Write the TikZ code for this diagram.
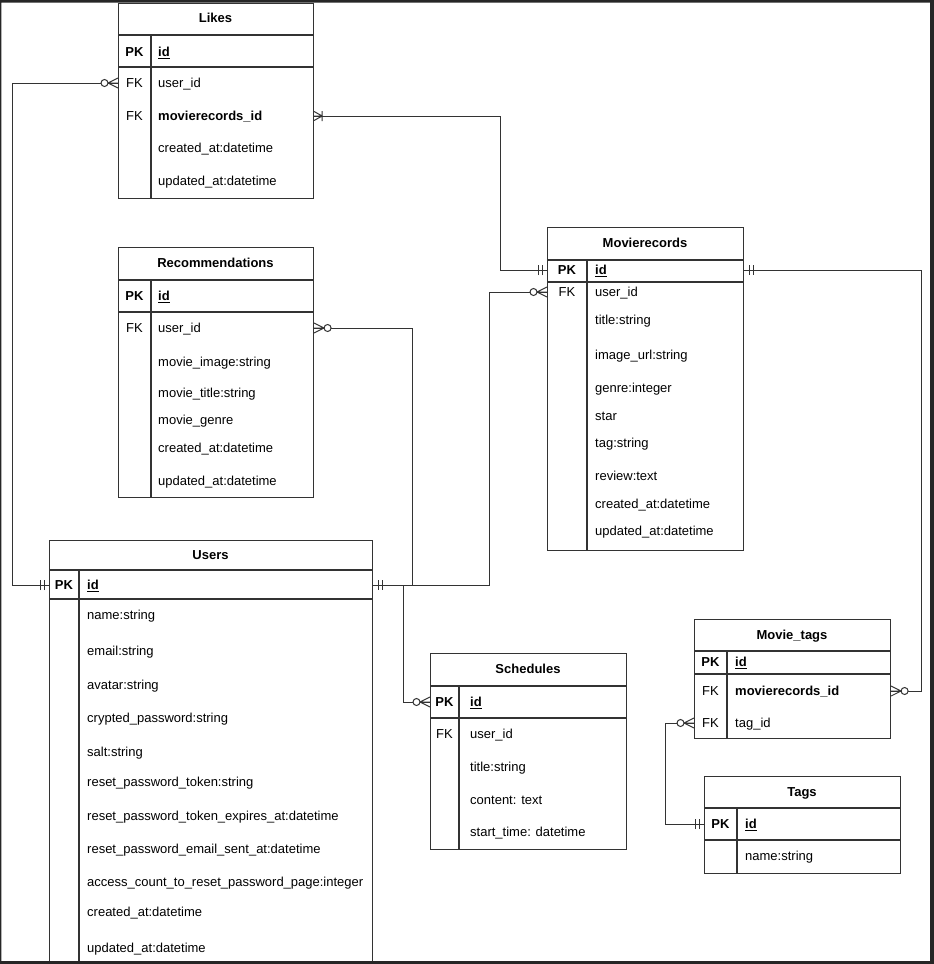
\documentclass[tikz,border=0pt]{standalone}
\usepackage{fontspec}
\setmainfont{Liberation Sans}
\usetikzlibrary{calc}
\definecolor{edge}{HTML}{333333}
\definecolor{frame}{HTML}{262626}
\tikzset{
  tbl/.style={draw=edge, line width=1.1pt, anchor=north west, inner sep=0pt},
  sep/.style={draw=edge, line width=1.1pt},
  conn/.style={draw=edge, line width=1pt},
  txt/.style={font=\fontsize{13}{15}\selectfont, inner sep=0pt, text height=9.4pt, text depth=0pt},
  ttl/.style={txt, font=\fontsize{13}{15}\selectfont\bfseries},
  key/.style={txt},
  pkey/.style={ttl},
  fld/.style={txt, anchor=west},
  pics/mandone/.style={code={\draw[conn] (5,-5) -- (5,5) (9,-5) -- (9,5);}},
  pics/onemany/.style={code={\draw[conn] (0,-4.5) -- (8,0) -- (0,4.5) (0,0) -- (8,0) (8,-5) -- (8,5);}},
  pics/zeromany/.style={code={\draw[conn] (0,-5) -- (10,0) -- (0,5) (0,0) -- (10,0);
    \draw[conn, fill=white] (13.5,0) circle (3.5);}},
}
\begin{document}
\begin{tikzpicture}[x=1pt, y=-1pt]
  \useasboundingbox (0,0) rectangle (934,964);
  \fill[white] (0,0) rectangle (934,964);

  % Likes
  \node[tbl, minimum width=195pt, minimum height=195pt] (likes) at (118,3) {};
  \draw[sep] (118,35) -- (313,35) (118,67) -- (313,67) (151,35) -- (151,198);
  \node[ttl] (likes-t) at (215.5,18) {Likes};
  \node[pkey] at (134.5,52) {PK};
  \node[fld, font=\fontsize{13}{15}\selectfont\bfseries] (likes-id) at (158,52) {\underline{id}};
  \node[key] at (134.5,83) {FK};
  \node[fld] (likes-uid) at (158,83) {user\_id};
  \node[key] at (134.5,116) {FK};
  \node[fld, font=\fontsize{13}{15}\selectfont\bfseries] (likes-mid) at (158,116) {movierecords\_id};
  \node[fld] (likes-ca) at (158,148) {created\_at:datetime};
  \node[fld] (likes-ua) at (158,181) {updated\_at:datetime};

  % Recommendations
  \node[tbl, minimum width=195pt, minimum height=250pt] (recs) at (118,247) {};
  \draw[sep] (118,280) -- (313,280) (118,312) -- (313,312) (151,280) -- (151,497);
  \node[ttl] (recs-t) at (215.5,263) {Recommendations};
  \node[pkey] at (134.5,296) {PK};
  \node[fld, font=\fontsize{13}{15}\selectfont\bfseries] (recs-id) at (158,296) {\underline{id}};
  \node[key] at (134.5,328) {FK};
  \node[fld] (recs-uid) at (158,328) {user\_id};
  \node[fld] (recs-img) at (158,362) {movie\_image:string};
  \node[fld] (recs-ttl) at (158,393) {movie\_title:string};
  \node[fld] (recs-gen) at (158,420) {movie\_genre};
  \node[fld] (recs-ca) at (158,448) {created\_at:datetime};
  \node[fld] (recs-ua) at (158,481) {updated\_at:datetime};

  % Movierecords
  \node[tbl, minimum width=196pt, minimum height=323pt] (movie) at (547,227) {};
  \draw[sep] (547,260) -- (743,260) (547,282) -- (743,282) (587,260) -- (587,550);
  \node[ttl] (movie-t) at (645,243) {Movierecords};
  \node[pkey] at (567,270) {PK};
  \node[fld, font=\fontsize{13}{15}\selectfont\bfseries] (movie-id) at (595,270) {\underline{id}};
  \node[key] at (567,292) {FK};
  \node[fld] (movie-uid) at (595,292) {user\_id};
  \node[fld] (movie-ttl) at (595,320) {title:string};
  \node[fld] (movie-img) at (595,355) {image\_url:string};
  \node[fld] (movie-gen) at (595,388) {genre:integer};
  \node[fld] (movie-star) at (595,416) {star};
  \node[fld] (movie-tag) at (595,443) {tag:string};
  \node[fld] (movie-rev) at (595,476) {review:text};
  \node[fld] (movie-ca) at (595,504) {created\_at:datetime};
  \node[fld] (movie-ua) at (595,531) {updated\_at:datetime};

  % Users
  \node[tbl, minimum width=323pt, minimum height=422pt] (users) at (49,540) {};
  \draw[sep] (49,570) -- (372,570) (49,599) -- (372,599) (79,570) -- (79,962);
  \node[ttl] (users-t) at (210.5,555) {Users};
  \node[pkey] at (64,585) {PK};
  \node[fld, font=\fontsize{13}{15}\selectfont\bfseries] (users-id) at (87,585) {\underline{id}};
  \node[fld] (users-name) at (87,615) {name:string};
  \node[fld] (users-mail) at (87,651) {email:string};
  \node[fld] (users-av) at (87,685) {avatar:string};
  \node[fld] (users-pw) at (87,718) {crypted\_password:string};
  \node[fld] (users-salt) at (87,752) {salt:string};
  \node[fld] (users-rt) at (87,782) {reset\_password\_token:string};
  \node[fld] (users-rte) at (87,816) {reset\_password\_token\_expires\_at:datetime};
  \node[fld] (users-res) at (87,849) {reset\_password\_email\_sent\_at:datetime};
  \node[fld] (users-acc) at (87,882) {access\_count\_to\_reset\_password\_page:integer};
  \node[fld] (users-ca) at (87,912) {created\_at:datetime};
  \node[fld] (users-ua) at (87,948) {updated\_at:datetime};

  % Schedules
  \node[tbl, minimum width=196pt, minimum height=196pt] (sched) at (430,653) {};
  \draw[sep] (430,686) -- (626,686) (430,718) -- (626,718) (459,686) -- (459,849);
  \node[ttl] (sched-t) at (528,669) {Schedules};
  \node[pkey] at (444.5,702) {PK};
  \node[fld, font=\fontsize{13}{15}\selectfont\bfseries] (sched-id) at (470,702) {\underline{id}};
  \node[key] at (444.5,734) {FK};
  \node[fld] (sched-uid) at (470,734) {user\_id};
  \node[fld] (sched-ttl) at (470,767) {title:string};
  \node[fld] (sched-con) at (470,800) {content: text};
  \node[fld] (sched-st) at (470,832) {start\_time: datetime};

  % Movie_tags
  \node[tbl, minimum width=196pt, minimum height=119pt] (mtags) at (694,619) {};
  \draw[sep] (694,651) -- (890,651) (694,674) -- (890,674) (727,651) -- (727,738);
  \node[ttl] (mtags-t) at (792,635) {Movie\_tags};
  \node[pkey] at (710.5,662) {PK};
  \node[fld, font=\fontsize{13}{15}\selectfont\bfseries] (mtags-id) at (735,662) {\underline{id}};
  \node[key] at (710.5,691) {FK};
  \node[fld, font=\fontsize{13}{15}\selectfont\bfseries] (mtags-mid) at (735,691) {movierecords\_id};
  \node[key] at (710.5,723) {FK};
  \node[fld] (mtags-tid) at (735,723) {tag\_id};

  % Tags
  \node[tbl, minimum width=196pt, minimum height=97pt] (tags) at (704,776) {};
  \draw[sep] (704,808) -- (900,808) (704,840) -- (900,840) (737,808) -- (737,873);
  \node[ttl] (tags-t) at (802,792) {Tags};
  \node[pkey] at (720.5,824) {PK};
  \node[fld, font=\fontsize{13}{15}\selectfont\bfseries] (tags-id) at (745,824) {\underline{id}};
  \node[fld] (tags-name) at (745,856) {name:string};

  % relations
  \draw[conn] (likes.west |- likes-uid) -- ++(-106,0) |- (users.west |- users-id);
  \draw[conn] (likes.east |- likes-mid) -- ++(186,0) |- (movie.west |- movie-id);
  \draw[conn] (recs.east |- recs-uid) -- ++(98,0) |- (users.east |- users-id);
  \draw[conn] (movie.west |- movie-uid) -- ++(-58,0) |- (users.east |- users-id);
  \draw[conn] (users.east |- users-id) -- ++(30,0) |- (sched.west |- sched-id);
  \draw[conn] (movie.east |- movie-id) -- ++(177,0) |- (mtags.east |- mtags-mid);
  \draw[conn] (mtags.west |- mtags-tid) -- ++(-29,0) |- (tags.west |- tags-id);

  \pic[rotate=180] at (likes.west |- likes-uid) {zeromany};
  \pic[rotate=180] at (users.west |- users-id) {mandone};
  \pic at (likes.east |- likes-mid) {onemany};
  \pic[rotate=180] at (movie.west |- movie-id) {mandone};
  \pic at (recs.east |- recs-uid) {zeromany};
  \pic at (users.east |- users-id) {mandone};
  \pic[rotate=180] at (movie.west |- movie-uid) {zeromany};
  \pic[rotate=180] at (sched.west |- sched-id) {zeromany};
  \pic at (movie.east |- movie-id) {mandone};
  \pic at (mtags.east |- mtags-mid) {zeromany};
  \pic[rotate=180] at (mtags.west |- mtags-tid) {zeromany};
  \pic[rotate=180] at (tags.west |- tags-id) {mandone};

  % dark frame of the screenshot
  \fill[frame, even odd rule] (0,0) rectangle (934,964) (1.3,2.5) rectangle (930,961);
\end{tikzpicture}
\end{document}
